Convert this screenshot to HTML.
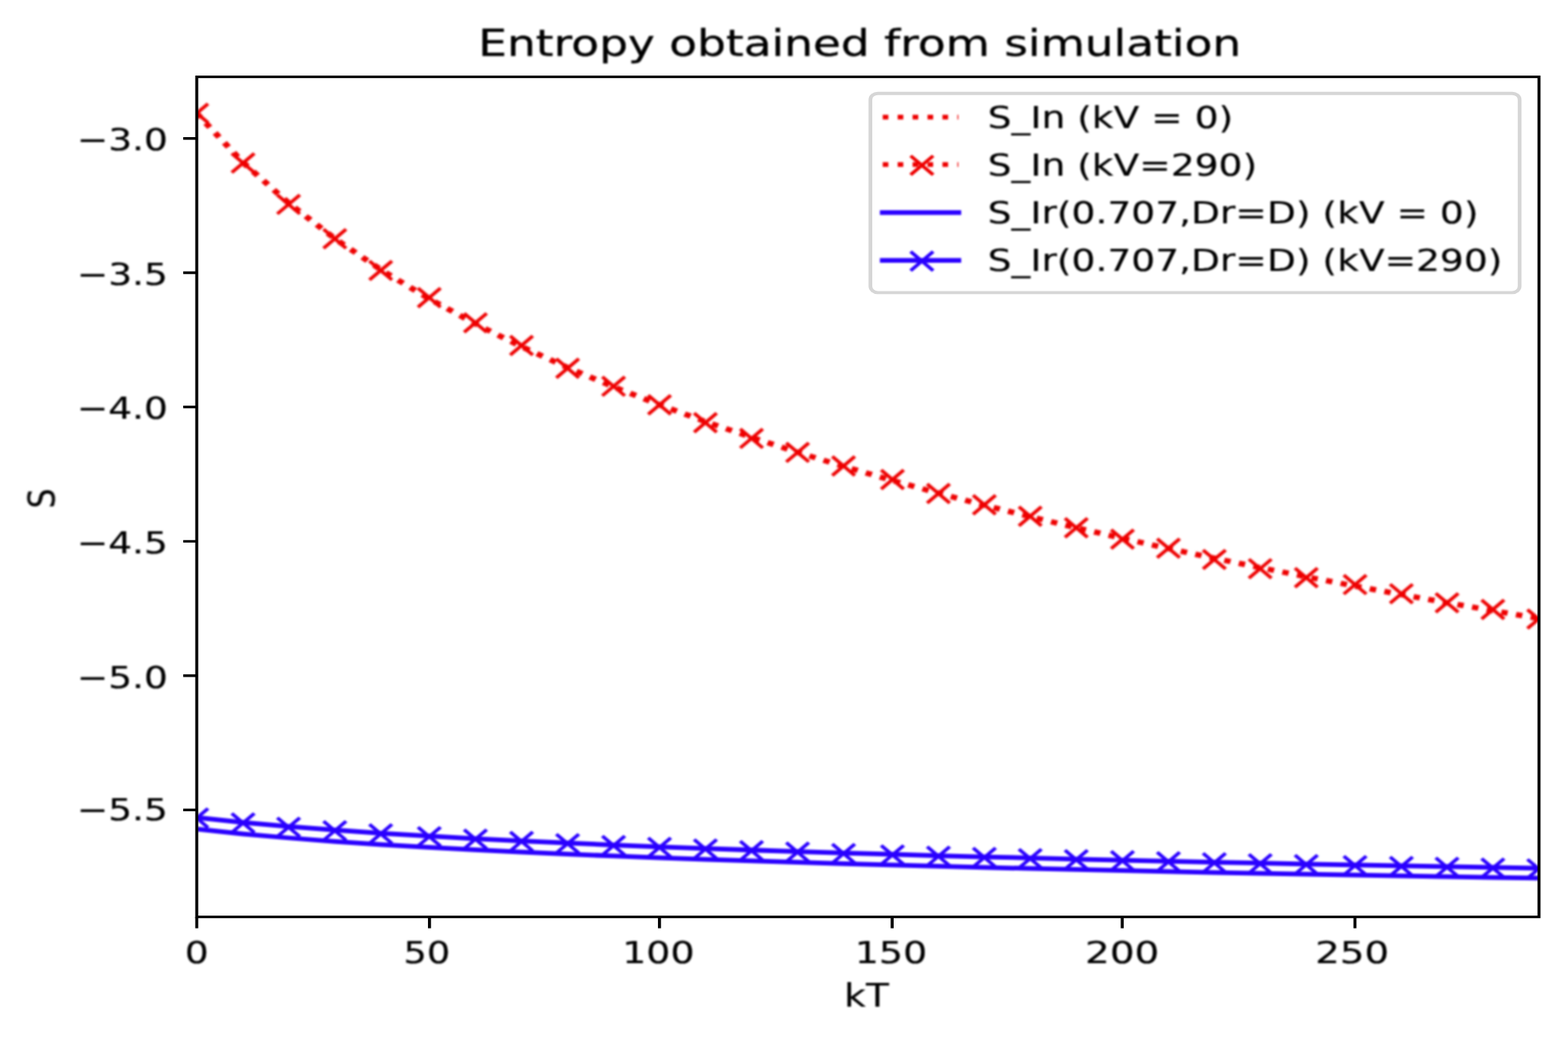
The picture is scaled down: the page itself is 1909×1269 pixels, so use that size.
<!DOCTYPE html>
<html lang="en"><head><meta charset="utf-8"><title>Entropy obtained from simulation</title>
<style>html,body{margin:0;padding:0;background:#fff;}body{width:1909px;height:1269px;overflow:hidden;}svg{display:block;}text{font-family:'DejaVu Sans','Liberation Sans',sans-serif;fill:#000;stroke:#000;stroke-width:0.07px;stroke-linejoin:round;}.t{stroke-width:0.13px;}</style>
</head><body>
<svg width="1909" height="1269" viewBox="0 0 1909 1269">
<defs>
<clipPath id="ax"><rect x="72.71" y="33.76" width="496" height="368.99"/></clipPath>
<path id="mx" d="M-4.17 -4.17 L4.17 4.17 M-4.17 4.17 L4.17 -4.17" fill="none" stroke-width="1.39"/>
<filter id="soft" x="-10%" y="-30%" width="120%" height="160%" color-interpolation-filters="sRGB"><feGaussianBlur stdDeviation="0.3 0.36"/></filter>
<filter id="msoft" filterUnits="userSpaceOnUse" x="0" y="0" width="579.43" height="457.69" color-interpolation-filters="sRGB"><feGaussianBlur stdDeviation="0.3 0.36"/></filter>
</defs>
<rect width="1909" height="1269" fill="#fff"/>
<g transform="scale(3.2946 2.7726)">
<g clip-path="url(#ax)" filter="url(#msoft)">
<polyline points="72.71,49.85 89.81,71.37 106.92,89.45 124.02,105.04 141.12,118.75 158.23,130.98 175.33,142.02 192.43,152.08 209.54,161.32 226.64,169.87 243.74,177.81 260.85,185.24 277.95,192.21 295.05,198.78 312.16,204.99 329.26,210.88 346.36,216.47 363.47,221.81 380.57,226.9 397.68,231.78 414.78,236.45 431.88,240.94 448.99,245.26 466.09,249.42 483.19,253.44 500.3,257.31 517.4,261.06 534.5,264.69 551.61,268.21 568.71,271.62" fill="none" stroke="#ee0000" stroke-width="2.37" stroke-dasharray="2.37 3.15" stroke-dashoffset="0.15"/>
<g>
<use href="#mx" x="72.69" y="49.7" stroke="#ee0000"/>
<use href="#mx" x="89.81" y="71.59" stroke="#ee0000"/>
<use href="#mx" x="106.63" y="89.77" stroke="#ee0000"/>
<use href="#mx" x="123.72" y="104.85" stroke="#ee0000"/>
<use href="#mx" x="140.68" y="118.77" stroke="#ee0000"/>
<use href="#mx" x="158.62" y="130.71" stroke="#ee0000"/>
<use href="#mx" x="175.68" y="141.78" stroke="#ee0000"/>
<use href="#mx" x="192.71" y="151.73" stroke="#ee0000"/>
<use href="#mx" x="209.74" y="161.73" stroke="#ee0000"/>
<use href="#mx" x="226.73" y="169.66" stroke="#ee0000"/>
<use href="#mx" x="243.7" y="177.81" stroke="#ee0000"/>
<use href="#mx" x="260.67" y="185.64" stroke="#ee0000"/>
<use href="#mx" x="277.7" y="192.56" stroke="#ee0000"/>
<use href="#mx" x="294.72" y="198.69" stroke="#ee0000"/>
<use href="#mx" x="311.72" y="204.65" stroke="#ee0000"/>
<use href="#mx" x="329.78" y="210.63" stroke="#ee0000"/>
<use href="#mx" x="346.78" y="216.76" stroke="#ee0000"/>
<use href="#mx" x="363.75" y="221.71" stroke="#ee0000"/>
<use href="#mx" x="380.68" y="226.75" stroke="#ee0000"/>
<use href="#mx" x="397.71" y="231.8" stroke="#ee0000"/>
<use href="#mx" x="414.77" y="236.82" stroke="#ee0000"/>
<use href="#mx" x="431.77" y="240.78" stroke="#ee0000"/>
<use href="#mx" x="448.73" y="245.73" stroke="#ee0000"/>
<use href="#mx" x="465.67" y="249.77" stroke="#ee0000"/>
<use href="#mx" x="482.7" y="253.73" stroke="#ee0000"/>
<use href="#mx" x="500.73" y="256.76" stroke="#ee0000"/>
<use href="#mx" x="517.85" y="260.77" stroke="#ee0000"/>
<use href="#mx" x="534.72" y="264.77" stroke="#ee0000"/>
<use href="#mx" x="551.66" y="267.69" stroke="#ee0000"/>
<use href="#mx" x="568.6" y="271.87" stroke="#ee0000"/>
</g>
<polyline points="72.71,364.12 89.81,366.26 106.92,368.05 124.02,369.59 141.12,370.94 158.23,372.15 175.33,373.23 192.43,374.22 209.54,375.12 226.64,375.96 243.74,376.73 260.85,377.45 277.95,378.13 295.05,378.76 312.16,379.36 329.26,379.93 346.36,380.47 363.47,380.98 380.57,381.47 397.68,381.93 414.78,382.38 431.88,382.8 448.99,383.21 466.09,383.61 483.19,383.98 500.3,384.35 517.4,384.7 534.5,385.04 551.61,385.37 568.71,385.69" fill="none" stroke="#2a00ff" stroke-width="2.08"/>
<polyline points="72.71,359.07 89.81,361.23 106.92,363.05 124.02,364.61 141.12,365.99 158.23,367.22 175.33,368.33 192.43,369.34 209.54,370.27 226.64,371.13 243.74,371.93 260.85,372.67 277.95,373.37 295.05,374.03 312.16,374.66 329.26,375.25 346.36,375.81 363.47,376.35 380.57,376.86 397.68,377.35 414.78,377.82 431.88,378.27 448.99,378.7 466.09,379.12 483.19,379.52 500.3,379.91 517.4,380.29 534.5,380.65 551.61,381.01 568.71,381.35" fill="none" stroke="#2a00ff" stroke-width="2.08"/>
<g>
<use href="#mx" x="72.69" y="359.32" stroke="#2a00ff"/>
<use href="#mx" x="89.81" y="361.48" stroke="#2a00ff"/>
<use href="#mx" x="106.63" y="363.3" stroke="#2a00ff"/>
<use href="#mx" x="123.72" y="364.87" stroke="#2a00ff"/>
<use href="#mx" x="140.68" y="366.24" stroke="#2a00ff"/>
<use href="#mx" x="158.62" y="367.47" stroke="#2a00ff"/>
<use href="#mx" x="175.68" y="368.58" stroke="#2a00ff"/>
<use href="#mx" x="192.71" y="369.59" stroke="#2a00ff"/>
<use href="#mx" x="209.74" y="370.52" stroke="#2a00ff"/>
<use href="#mx" x="226.73" y="371.38" stroke="#2a00ff"/>
<use href="#mx" x="243.7" y="372.18" stroke="#2a00ff"/>
<use href="#mx" x="260.67" y="372.92" stroke="#2a00ff"/>
<use href="#mx" x="277.7" y="373.63" stroke="#2a00ff"/>
<use href="#mx" x="294.72" y="374.28" stroke="#2a00ff"/>
<use href="#mx" x="311.72" y="374.91" stroke="#2a00ff"/>
<use href="#mx" x="329.78" y="375.5" stroke="#2a00ff"/>
<use href="#mx" x="346.78" y="376.06" stroke="#2a00ff"/>
<use href="#mx" x="363.75" y="376.6" stroke="#2a00ff"/>
<use href="#mx" x="380.68" y="377.11" stroke="#2a00ff"/>
<use href="#mx" x="397.71" y="377.6" stroke="#2a00ff"/>
<use href="#mx" x="414.77" y="378.07" stroke="#2a00ff"/>
<use href="#mx" x="431.77" y="378.52" stroke="#2a00ff"/>
<use href="#mx" x="448.73" y="378.95" stroke="#2a00ff"/>
<use href="#mx" x="465.67" y="379.37" stroke="#2a00ff"/>
<use href="#mx" x="482.7" y="379.78" stroke="#2a00ff"/>
<use href="#mx" x="500.73" y="380.17" stroke="#2a00ff"/>
<use href="#mx" x="517.85" y="380.54" stroke="#2a00ff"/>
<use href="#mx" x="534.72" y="380.91" stroke="#2a00ff"/>
<use href="#mx" x="551.66" y="381.26" stroke="#2a00ff"/>
<use href="#mx" x="568.6" y="381.6" stroke="#2a00ff"/>
</g>
</g>
<path d="M72.71 402.75 v5 M158.71 402.75 v5 M243.7 402.75 v5 M329.69 402.75 v5 M414.71 402.75 v5 M500.7 402.75 v5 M72.71 60.81 h-5 M72.71 119.78 h-5 M72.71 178.75 h-5 M72.71 237.79 h-5 M72.71 296.8 h-5 M72.71 355.77 h-5" fill="none" stroke="#000" stroke-width="1.11"/>
<rect x="72.71" y="33.76" width="496" height="368.99" fill="none" stroke="#000" stroke-width="1.11"/>
<text transform="translate(72.69 423.18) scale(1 0.965)" font-size="13.89" text-anchor="middle" filter="url(#soft)">0</text>
<text transform="translate(157.73 423.18) scale(0.975 0.965)" font-size="13.89" text-anchor="middle" filter="url(#soft)">50</text>
<text transform="translate(243.28 423.18) scale(1.01 0.965)" font-size="13.89" text-anchor="middle" filter="url(#soft)">100</text>
<text transform="translate(329.25 423.18) scale(1.01 0.965)" font-size="13.89" text-anchor="middle" filter="url(#soft)">150</text>
<text transform="translate(414.69 423.18) scale(1.035 0.965)" font-size="13.89" text-anchor="middle" filter="url(#soft)">200</text>
<text transform="translate(499.68 423.18) scale(1.03 0.965)" font-size="13.89" text-anchor="middle" filter="url(#soft)">250</text>
<text transform="translate(62.07 66.15) scale(1 0.965)" font-size="13.89" text-anchor="end" filter="url(#soft)">−3.0</text>
<text transform="translate(62.07 125.12) scale(1 0.965)" font-size="13.89" text-anchor="end" filter="url(#soft)">−3.5</text>
<text transform="translate(62.07 184.09) scale(1 0.965)" font-size="13.89" text-anchor="end" filter="url(#soft)">−4.0</text>
<text transform="translate(62.07 243.24) scale(1 0.965)" font-size="13.89" text-anchor="end" filter="url(#soft)">−4.5</text>
<text transform="translate(62.07 302.17) scale(1 0.965)" font-size="13.89" text-anchor="end" filter="url(#soft)">−5.0</text>
<text transform="translate(62.07 360.17) scale(1 0.965)" font-size="13.89" text-anchor="end" filter="url(#soft)">−5.5</text>
<text transform="translate(320.19 442.15) scale(1 1.02)" font-size="13.89" text-anchor="middle" filter="url(#soft)">kT</text>
<text transform="translate(20.18 218.93) rotate(-90) scale(1 0.965)" font-size="13.89" text-anchor="middle" filter="url(#soft)">S</text>
<text class="t" transform="translate(317.7 24.35) scale(1.0073 0.975)" font-size="16.67" text-anchor="middle" filter="url(#soft)">Entropy obtained from simulation</text>
<rect x="321.65" y="41.01" width="239.91" height="87.5" rx="2.78" ry="2.78" fill="#fff" fill-opacity="0.8" stroke="#cccccc" stroke-opacity="0.8" stroke-width="1.39"/>
<g filter="url(#msoft)">
<path d="M326.2 51.4 H354.16" fill="none" stroke="#ee0000" stroke-width="2.08" stroke-dasharray="2.08 3.44"/>
</g>
<text transform="translate(364.99 56.12) scale(1 0.965)" font-size="13.89" filter="url(#soft)">S_In (kV = 0)</text>
<g filter="url(#msoft)">
<path d="M326.2 72.31 H354.16" fill="none" stroke="#ee0000" stroke-width="2.08" stroke-dasharray="2.08 3.44"/>
<use href="#mx" x="340.68" y="72.61" stroke="#ee0000"/>
</g>
<text transform="translate(364.99 77.08) scale(1 0.965)" font-size="13.89" filter="url(#soft)">S_In (kV=290)</text>
<g filter="url(#msoft)">
<path d="M326.2 93.38 H354.16" fill="none" stroke="#2a00ff" stroke-width="2.08" stroke-linecap="square"/>
</g>
<text transform="translate(364.99 98.03) scale(1 0.965)" font-size="13.89" filter="url(#soft)">S_Ir(0.707,Dr=D) (kV = 0)</text>
<g filter="url(#msoft)">
<path d="M326.2 114.41 H354.16" fill="none" stroke="#2a00ff" stroke-width="2.08" stroke-linecap="square"/>
<use href="#mx" x="340.68" y="114.71" stroke="#2a00ff"/>
</g>
<text transform="translate(364.99 119.06) scale(1 0.965)" font-size="13.89" filter="url(#soft)">S_Ir(0.707,Dr=D) (kV=290)</text>
</g>
</svg>
</body></html>
